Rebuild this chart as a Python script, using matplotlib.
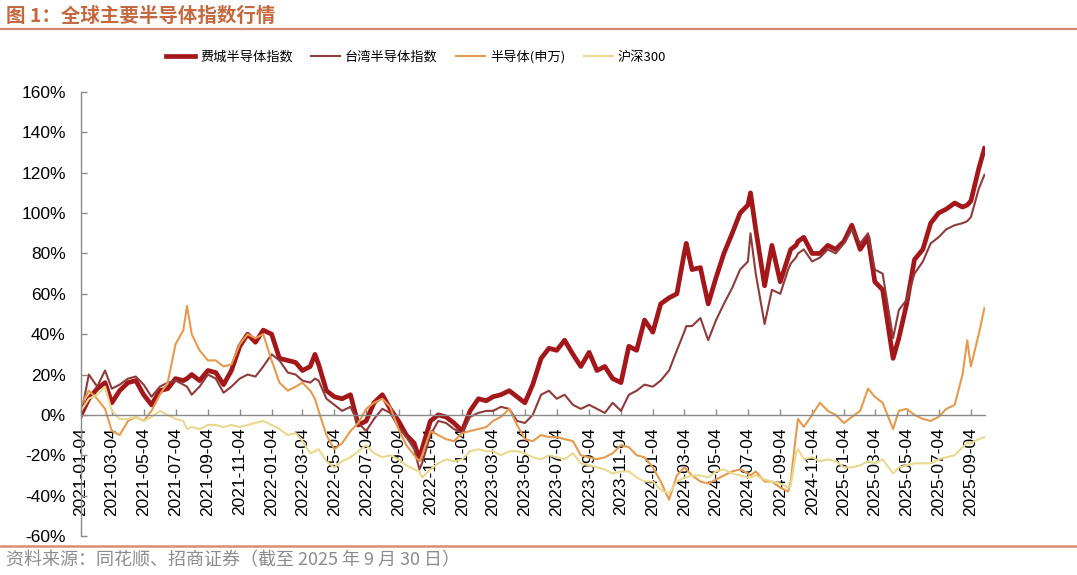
import matplotlib
matplotlib.use("Agg")
import matplotlib.pyplot as plt
import pandas as pd
from matplotlib.lines import Line2D
from matplotlib.ticker import FuncFormatter, FixedLocator, FixedFormatter
import matplotlib.dates as mdates

# ---------------- data (cumulative return, %) ----------------
dates = [
    # 2021
    "2021-01-04", "2021-01-19", "2021-02-04", "2021-02-19", "2021-03-04", "2021-03-19",
    "2021-04-04", "2021-04-19", "2021-05-04", "2021-05-19", "2021-06-04", "2021-06-19",
    "2021-07-04", "2021-07-19", "2021-07-26", "2021-08-04", "2021-08-19", "2021-09-04",
    "2021-09-19", "2021-10-04", "2021-10-19", "2021-11-04", "2021-11-19", "2021-12-04",
    "2021-12-19",
    # 2022
    "2022-01-04", "2022-01-19", "2022-02-04", "2022-02-19", "2022-03-04", "2022-03-19",
    "2022-03-28", "2022-04-04", "2022-04-19", "2022-05-04", "2022-05-19", "2022-06-04",
    "2022-06-19", "2022-07-04", "2022-07-19", "2022-08-04", "2022-08-19", "2022-09-04",
    "2022-09-19", "2022-10-04", "2022-10-14", "2022-10-19", "2022-11-04", "2022-11-19",
    "2022-12-04", "2022-12-19",
    # 2023
    "2023-01-04", "2023-01-19", "2023-02-04", "2023-02-19", "2023-03-04", "2023-03-19",
    "2023-04-04", "2023-04-19", "2023-05-04", "2023-05-19", "2023-06-04", "2023-06-19",
    "2023-07-04", "2023-07-19", "2023-08-04", "2023-08-19", "2023-09-04", "2023-09-19",
    "2023-10-04", "2023-10-19", "2023-11-04", "2023-11-19", "2023-12-04", "2023-12-19",
    # 2024
    "2024-01-04", "2024-01-19", "2024-02-04", "2024-02-19", "2024-03-04", "2024-03-08",
    "2024-03-19", "2024-04-04", "2024-04-19", "2024-05-04", "2024-05-19", "2024-06-04",
    "2024-06-19", "2024-07-04", "2024-07-09", "2024-07-19", "2024-08-05", "2024-08-19",
    "2024-09-04", "2024-09-19", "2024-09-24", "2024-10-04", "2024-10-08", "2024-10-19",
    "2024-11-04", "2024-11-19", "2024-12-04", "2024-12-19",
    # 2025
    "2025-01-04", "2025-01-19", "2025-02-04", "2025-02-19", "2025-03-04", "2025-03-19",
    "2025-04-08", "2025-04-19", "2025-05-04", "2025-05-19", "2025-06-04", "2025-06-19",
    "2025-07-04", "2025-07-19", "2025-08-04", "2025-08-19", "2025-08-28", "2025-09-04",
    "2025-09-19", "2025-09-30",
]

sox = [  # 费城半导体指数
    0, 8, 13, 16, 6, 12, 16, 17, 10, 5, 12, 13, 18, 17, 18, 20, 17, 22, 21, 15, 22, 34, 40, 36, 42,
    40, 28, 27, 26, 22, 24, 30, 25, 12, 9, 8, 10, -5, -3, 6, 10, 3, -3, -10, -14, -22, -17, -3, 0, -1, -4,
    -8, 2, 8, 7, 9, 10, 12, 9, 6, 15, 28, 33, 32, 37, 30, 24, 31, 22, 24, 18, 16, 34, 32, 47,
    41, 55, 58, 60, 80, 85, 72, 73, 55, 68, 80, 90, 100, 104, 110, 92, 64, 84, 66, 78, 82, 84, 86, 88,
    80, 80, 84, 82,
    86, 94, 82, 88, 66, 62, 28, 38, 55, 77, 82, 95, 100, 102, 105, 103, 104, 106, 122, 132,
]

taiwan = [  # 台湾半导体指数
    0, 20, 14, 22, 13, 15, 18, 19, 15, 9, 14, 16, 17, 15, 14, 10, 14, 20, 18, 11, 14, 18, 20, 19, 24,
    30, 27, 21, 20, 17, 16, 18, 17, 8, 5, 2, 4, -4, -8, -2, 3, 1, -6, -11, -17, -27, -24, -10, -3, -4, -7,
    -9, -1, 1, 2, 2, 4, 3, -3, -4, 0, 10, 12, 8, 10, 5, 3, 5, 3, 1, 6, 2, 10, 12, 15,
    14, 17, 22, 32, 41, 44, 44, 48, 37, 47, 55, 63, 72, 76, 90, 70, 45, 62, 60, 72, 75, 78, 80, 82,
    76, 78, 82, 80,
    85, 92, 85, 90, 72, 70, 38, 52, 57, 70, 76, 85, 88, 92, 94, 95, 96, 98, 112, 119,
]

sw_semi = [  # 半导体(申万)
    5, 12, 8, 3, -8, -10, -3, -1, -3, 2, 10, 16, 35, 42, 54, 40, 32, 27, 27, 24, 25, 35, 40, 38, 40,
    27, 16, 12, 14, 16, 12, 8, 2, -10, -17, -14, -8, -4, 3, 6, 8, 4, -7, -15, -20, -23, -20, -8, -10,
    -12, -13,
    -9, -8, -7, -6, -3, -1, 3, -5, -12, -13, -10, -11, -11, -12, -13, -20, -21, -22, -21, -19, -15,
    -16, -20, -21,
    -26, -33, -42, -30, -26, -27, -30, -33, -34, -32, -30, -28, -27, -29, -30, -28, -33, -33, -36, -38,
    -33, -10, -2, -6, 0, 6, 2, 0,
    -4, -1, 2, 13, 9, 6, -7, 2, 3, 0, -2, -3, -1, 3, 5, 20, 37, 24, 40, 53,
]

hs300 = [  # 沪深300
    2, 8, 10, 14, 2, -2, -2, -1, -3, -1, 2, 0, -2, -3, -7, -6, -7, -5, -5, -6, -5, -6, -5, -4, -3,
    -5, -7, -10, -9, -13, -19, -18, -17, -23, -26, -23, -21, -18, -15, -19, -21, -20, -22, -25, -27,
    -28, -31, -27, -24, -22, -23,
    -22, -18, -17, -18, -18, -20, -18, -18, -19, -21, -22, -20, -21, -22, -19, -24, -25, -26, -27,
    -29, -28, -28, -31, -33,
    -33, -37, -39, -33, -31, -31, -30, -30, -31, -28, -27, -29, -30, -31, -31, -30, -32, -33, -34,
    -36, -35, -19, -17, -22, -21, -23, -22, -23,
    -26, -26, -25, -23, -24, -22, -29, -26, -25, -24, -24, -24, -22, -21, -20, -16, -14, -14, -12, -11,
]

series_names = ["费城半导体指数", "台湾半导体指数", "半导体(申万)", "沪深300"]
series_colors = ["#A3161A", "#8E3B3B", "#E69A4E", "#E8D98F"]
series_widths = [3.4, 1.5, 1.5, 1.5]

tick_dates = [f"{y}-{m:02d}-04" for y in range(2021, 2026) for m in (1, 3, 5, 7, 9, 11)
              if (y, m) <= (2025, 9)]

assert all(len(s) == len(dates) for s in (sox, taiwan, sw_semi, hs300)), \
    (len(dates), len(sox), len(taiwan), len(sw_semi), len(hs300))

# ---------------- figure ----------------
CJK = ["Noto Sans CJK SC", "DejaVu Sans"]
LAT = ["Liberation Sans", "DejaVu Sans"]

W, H = 1077, 575
fig = plt.figure(figsize=(W / 100, H / 100), dpi=100)
fig.patch.set_facecolor("white")

ax = fig.add_axes([81 / W, 1 - 536 / H, (985 - 81) / W, (536 - 92) / H])

x = pd.to_datetime(dates)
for vals, name, col, lw in zip((sox, taiwan, sw_semi, hs300), series_names,
                               series_colors, series_widths):
    ax.plot(x, vals, color=col, lw=lw, label=name, solid_joinstyle="round")

ax.set_ylim(-60, 160)
ax.set_yticks(range(-60, 161, 20))
ax.yaxis.set_major_formatter(FuncFormatter(lambda v, p: f"{v:.0f}%"))
ax.set_xlim(pd.Timestamp("2021-01-04"), pd.Timestamp("2025-10-01"))
tick_pos = [mdates.date2num(pd.Timestamp(d)) for d in tick_dates]
ax.xaxis.set_major_locator(FixedLocator(tick_pos))
ax.xaxis.set_major_formatter(FixedFormatter(tick_dates))

for s in ("top", "right"):
    ax.spines[s].set_visible(False)
ax.spines["bottom"].set_position(("data", 0))
for s in ("left", "bottom"):
    ax.spines[s].set_color("#8A8A8A")
    ax.spines[s].set_linewidth(1.0)

ax.tick_params(axis="y", direction="in", length=4, width=1, color="#8A8A8A",
               pad=11, labelsize=12.5, labelcolor="black", labelfontfamily=LAT)
ax.tick_params(axis="x", direction="in", length=4, width=1, color="#8A8A8A",
               pad=9, labelsize=12.5, labelcolor="black", labelrotation=90,
               labelfontfamily=LAT)

# legend
leg = fig.legend(loc="center", bbox_to_anchor=(416 / W, 1 - 57 / H), ncol=4, frameon=False,
                 prop={"family": CJK, "size": 9.5}, handlelength=2.2, handletextpad=0.35,
                 columnspacing=1.4)

# title and decorations
title_col = "#C4683F"
fig.text(6 / W, 1 - 16 / H, "图 1：全球主要半导体指数行情", family=CJK, fontsize=14,
         fontweight="bold", color=title_col, va="center", ha="left")
fig.add_artist(Line2D([0, 1], [1 - 29 / H] * 2, transform=fig.transFigure,
                      color="#D38A6C", lw=1.6))
fig.add_artist(Line2D([0, 1], [1 - 546 / H] * 2, transform=fig.transFigure,
                      color="#D98E72", lw=1.8))
fig.text(6 / W, 1 - 560 / H, "资料来源：同花顺、招商证券（截至 2025 年 9 月 30 日）", family=CJK,
         fontsize=13, color="#8C8C8C", va="center", ha="left")

fig.savefig("out.png", dpi=100, facecolor="white")
